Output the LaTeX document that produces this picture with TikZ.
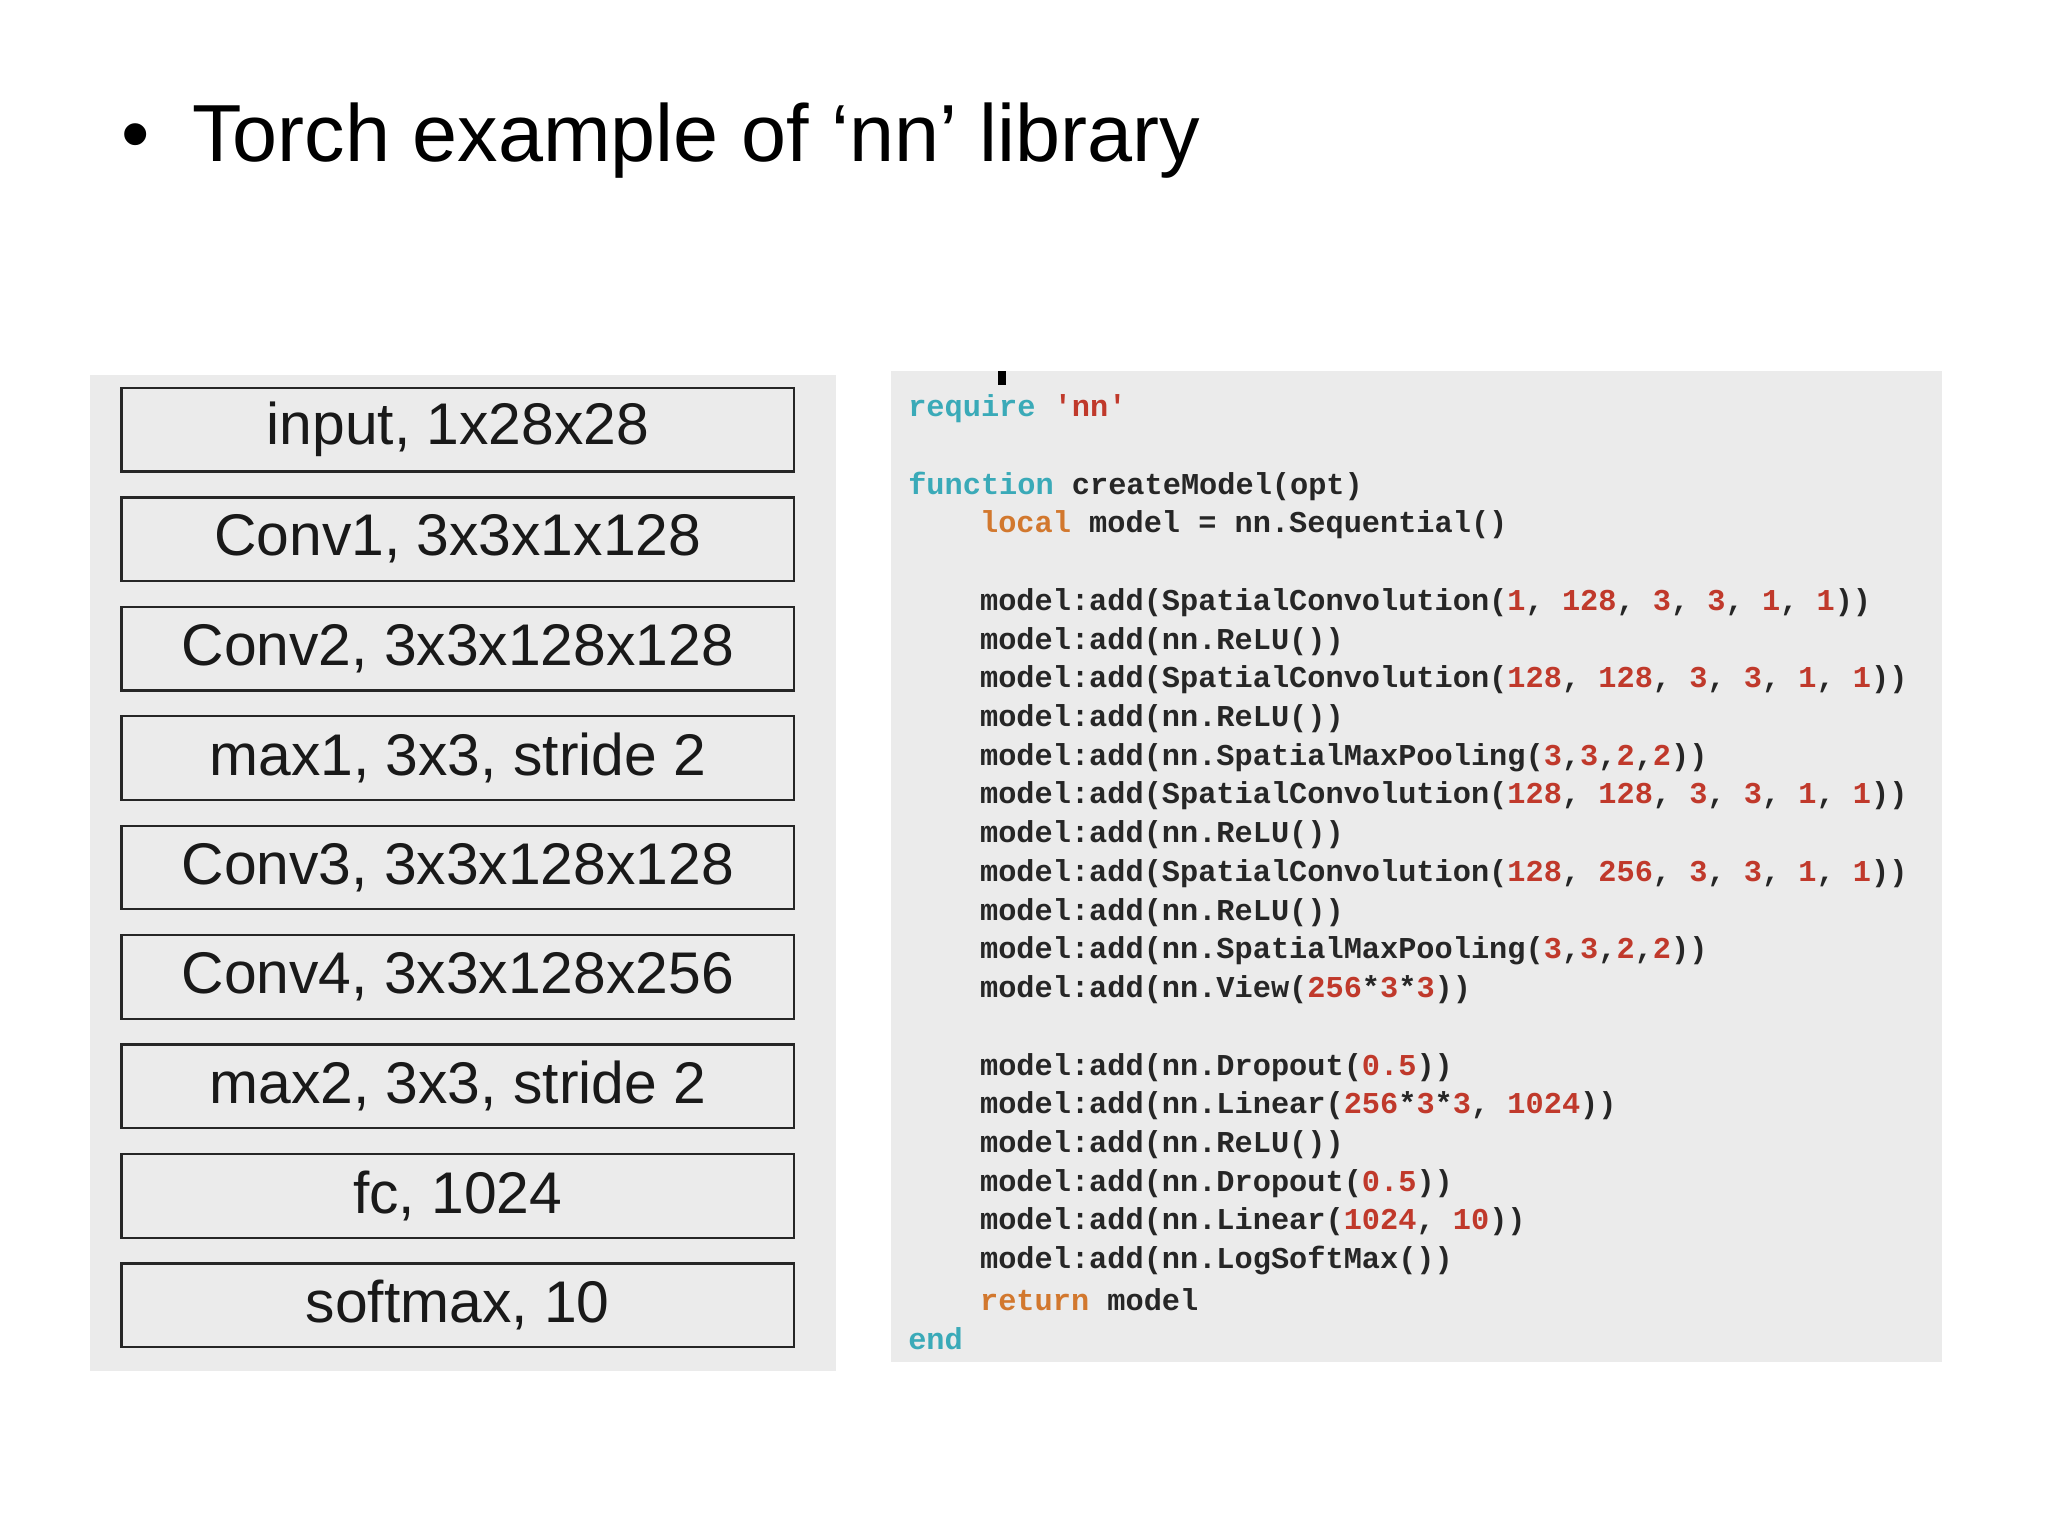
\documentclass[tikz,border=0pt]{standalone}
\usepackage{fontspec}
\setmainfont{Liberation Sans}
\newfontfamily\codefont{Liberation Mono}
\definecolor{panel}{HTML}{EBEBEB}
\definecolor{kw}{HTML}{3AAAB8}
\definecolor{num}{HTML}{C0392B}
\definecolor{loc}{HTML}{D2782E}
\newcommand{\K}[1]{\textcolor{kw}{#1}}
\newcommand{\N}[1]{\textcolor{num}{#1}}
\newcommand{\Lc}[1]{\textcolor{loc}{#1}}
\begin{document}
\begin{tikzpicture}[x=0.5pt,y=-0.5pt,
  layer/.style={draw=black!85,line width=0.9pt,fill=panel,minimum width=257.5pt,minimum height=32pt,inner sep=0pt,font=\fontsize{22.5}{26}\selectfont,text=black!90},
  code/.style={anchor=west,inner sep=0pt,font=\codefont\bfseries\fontsize{11.6}{13}\selectfont,text=black!85}]
\useasboundingbox (0,0) rectangle (1568,1175.2);
\fill[white] (0,0) rectangle (1568,1175.2);
\node[anchor=west,inner sep=0pt,font=\fontsize{31}{36}\selectfont] (title) at (93,108) {\textbullet\hspace{16pt}Torch example of ‘nn’ library};
\fill[panel] (69,287) rectangle (640,1050);
\foreach \t [count=\i from 0] in {{input, 1x28x28},{Conv1, 3x3x1x128},{Conv2, 3x3x128x128},{max1, 3x3, stride 2},{Conv3, 3x3x128x128},{Conv4, 3x3x128x256},{max2, 3x3, stride 2},{fc, 1024},{softmax, 10}}
  \node[layer] (b\i) at (350.5,{329+\i*83.8}) {\t};
\fill[panel] (682,284) rectangle (1487,1043);
\fill[black] (764,284) rectangle (770,295);
\def\y#1{{313+#1*29.65}}
\node[code] (l0) at (695,\y{0}) {\K{require} \N{'nn'}};
\node[code] (l2) at (695,\y{2}) {\K{function} createModel(opt)};
\node[code] (l3) at (750,\y{3}) {\Lc{local} model = nn.Sequential()};
\node[code] (l5) at (750,\y{5}) {model:add(SpatialConvolution(\N{1}, \N{128}, \N{3}, \N{3}, \N{1}, \N{1}))};
\node[code] (l6) at (750,\y{6}) {model:add(nn.ReLU())};
\node[code] (l7) at (750,\y{7}) {model:add(SpatialConvolution(\N{128}, \N{128}, \N{3}, \N{3}, \N{1}, \N{1}))};
\node[code] (l8) at (750,\y{8}) {model:add(nn.ReLU())};
\node[code] (l9) at (750,\y{9}) {model:add(nn.SpatialMaxPooling(\N{3},\N{3},\N{2},\N{2}))};
\node[code] (l10) at (750,\y{10}) {model:add(SpatialConvolution(\N{128}, \N{128}, \N{3}, \N{3}, \N{1}, \N{1}))};
\node[code] (l11) at (750,\y{11}) {model:add(nn.ReLU())};
\node[code] (l12) at (750,\y{12}) {model:add(SpatialConvolution(\N{128}, \N{256}, \N{3}, \N{3}, \N{1}, \N{1}))};
\node[code] (l13) at (750,\y{13}) {model:add(nn.ReLU())};
\node[code] (l14) at (750,\y{14}) {model:add(nn.SpatialMaxPooling(\N{3},\N{3},\N{2},\N{2}))};
\node[code] (l15) at (750,\y{15}) {model:add(nn.View(\N{256}*\N{3}*\N{3}))};
\node[code] (l17) at (750,\y{17}) {model:add(nn.Dropout(\N{0.5}))};
\node[code] (l18) at (750,\y{18}) {model:add(nn.Linear(\N{256}*\N{3}*\N{3}, \N{1024}))};
\node[code] (l19) at (750,\y{19}) {model:add(nn.ReLU())};
\node[code] (l20) at (750,\y{20}) {model:add(nn.Dropout(\N{0.5}))};
\node[code] (l21) at (750,\y{21}) {model:add(nn.Linear(\N{1024}, \N{10}))};
\node[code] (l22) at (750,\y{22}) {model:add(nn.LogSoftMax())};
\node[code] (l23) at (750,\y{23}) {\Lc{return} model};
\node[code] (l24) at (695,\y{24}) {\K{end}};
\end{tikzpicture}
\end{document}
